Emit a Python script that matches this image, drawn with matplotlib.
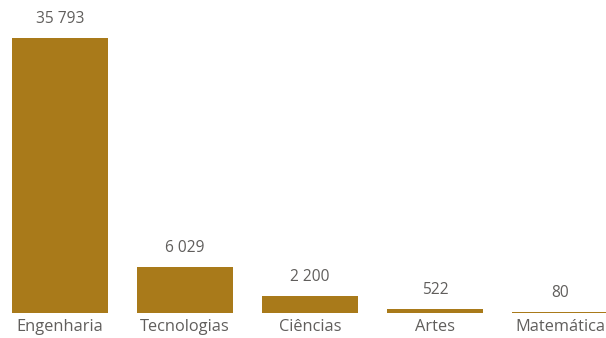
import matplotlib.pyplot as plt

plt.rcParams['font.family'] = ['Open Sans', 'DejaVu Sans']

# dados
categorias = ["Engenharia", "Tecnologias", "Ciências", "Artes", "Matemática"]
valores = [35793, 6029, 2200, 522, 80]

cor_barra = "#A97A1A"
cor_texto = "#605E5C"

fig = plt.figure(figsize=(6.06, 3.38), dpi=100)
ax = fig.add_axes([0, 25 / 338, 1, 313 / 338])

x = range(len(categorias))
barras = ax.bar(x, valores, width=0.768, color=cor_barra)

# rótulos de valor com espaço como separador de milhar
for b, v in zip(barras, valores):
    txt = f"{v:,}".replace(",", " ")
    ax.annotate(txt, (b.get_x() + b.get_width() / 2, v), xytext=(0, 8),
                textcoords="offset points", ha="center", va="bottom",
                fontsize=11.2, color=cor_texto)

ax.set_xticks(list(x))
ax.set_xticklabels(categorias, fontsize=11.8, color=cor_texto)
ax.tick_params(axis="x", length=0, pad=4)
ax.set_yticks([])
ax.set_xlim(-0.48, 4.368)
ax.set_ylim(0, 35793 * 313 / 275)
for s in ax.spines.values():
    s.set_visible(False)

fig.savefig("out.png", dpi=100)
plt.close()
